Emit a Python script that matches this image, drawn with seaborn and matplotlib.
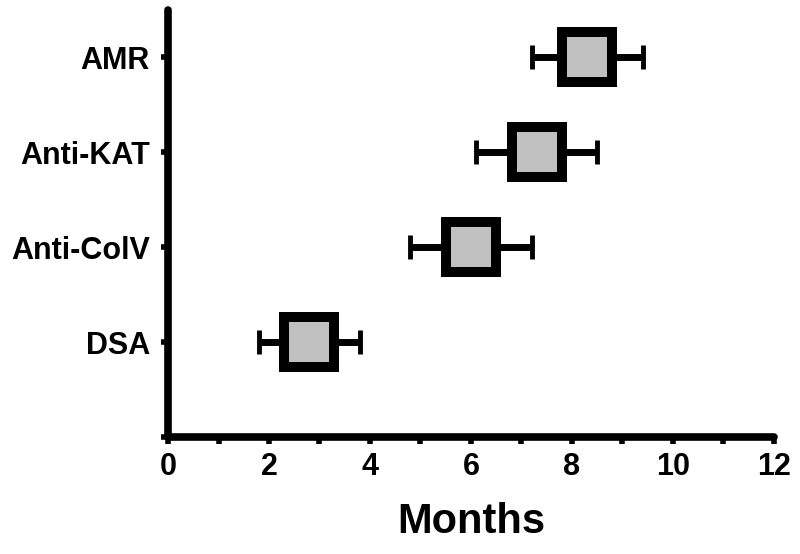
import matplotlib
matplotlib.use("Agg")
import matplotlib.pyplot as plt
from matplotlib.markers import MarkerStyle
import seaborn as sns
import pandas as pd
import numpy as np

categories = ["AMR", "Anti-KAT", "Anti-ColV", "DSA"]
mean_months = [8.3, 7.3, 6.0, 2.8]
low_months = [7.2, 6.1, 4.8, 1.8]
high_months = [9.4, 8.5, 7.2, 3.8]
x_ticks = [0, 2, 4, 6, 8, 10, 12]

sns.set_theme(style="white")
plt.rcParams["font.family"] = ["Liberation Sans", "DejaVu Sans"]
plt.rcParams["font.weight"] = "bold"
plt.rcParams["text.color"] = "black"
plt.rcParams["axes.labelcolor"] = "black"
plt.rcParams["xtick.color"] = "black"
plt.rcParams["ytick.color"] = "black"

pos = [len(categories) - i for i in range(len(categories))]
df = pd.DataFrame({"cat": categories, "m": mean_months, "pos": pos,
                   "lo": low_months, "hi": high_months})

fig = plt.figure(figsize=(8, 5.54), dpi=100)
ax = fig.add_axes([0.21, 0.211, 0.7575, 0.771])

xerr = np.vstack([df["m"] - df["lo"], df["hi"] - df["m"]])
ax.errorbar(df["m"], df["pos"], xerr=xerr, fmt="none", ecolor="black",
            elinewidth=5, capsize=8.5, capthick=3.5, zorder=2)
sns.scatterplot(data=df, x="m", y="pos", marker=MarkerStyle("s", joinstyle="miter"),
                s=36 ** 2, color="#c0c0c0", edgecolor="black", linewidth=7.2,
                ax=ax, zorder=3, legend=False)
for coll in ax.collections:
    try:
        coll.set_joinstyle("miter")
    except Exception:
        pass

ax.set_xlim(0, 12)
ax.set_ylim(0, 4.5)
ax.set_xticks(x_ticks)
ax.set_xticks([1, 3, 5, 7, 9, 11], minor=True)
ax.set_yticks([0] + pos)
ax.set_yticklabels([""] + categories)
ax.set_xlabel("Months", fontsize=30, fontweight="bold", labelpad=14, color="black")
ax.set_ylabel("")

for side in ["top", "right"]:
    ax.spines[side].set_visible(False)
for side in ["left", "bottom"]:
    ax.spines[side].set_linewidth(5.5)
    ax.spines[side].set_color("black")
    ax.spines[side].set_capstyle("round")

ax.tick_params(axis="x", which="both", direction="out", length=5, width=4,
               color="black", labelcolor="black", labelsize=22, pad=6, bottom=True)
ax.tick_params(axis="y", which="both", direction="out", length=5, width=4,
               color="black", labelcolor="black", labelsize=22, pad=8, left=True)
for lab in ax.get_xticklabels() + ax.get_yticklabels():
    lab.set_fontweight("bold")

fig.savefig("out.png", dpi=100)
